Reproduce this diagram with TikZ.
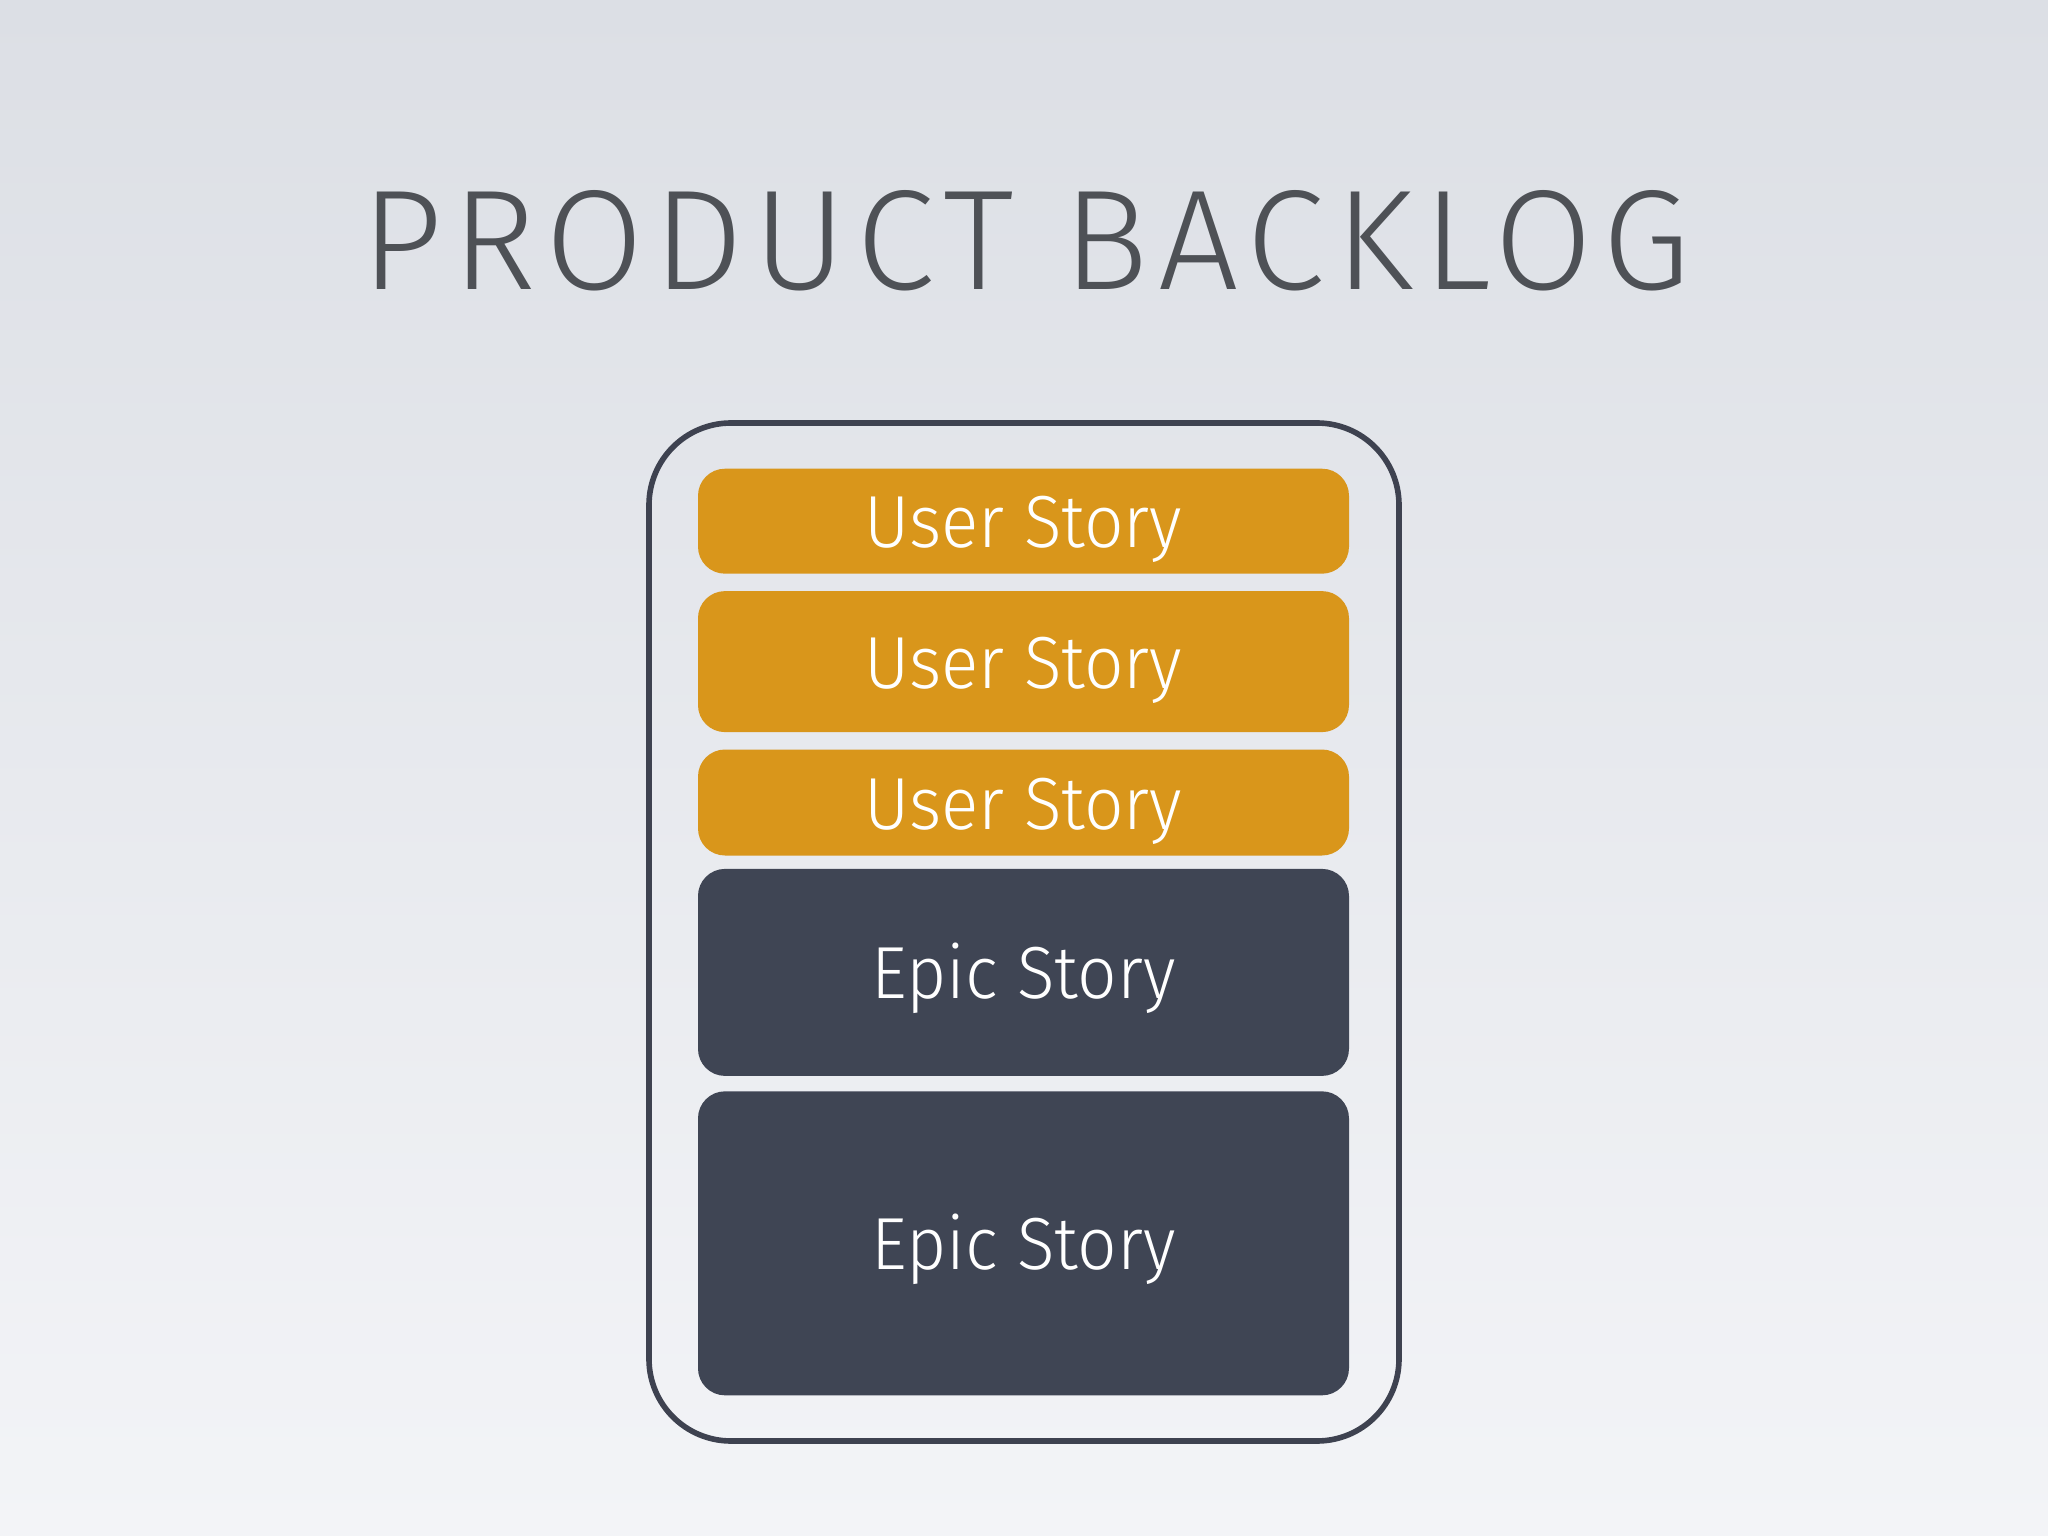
\documentclass[tikz,border=0pt]{standalone}
\usepackage{fontspec}
\setmainfont{Fira Sans}[UprightFont={* Light}]
\newfontfamily\titlefont{Fira Sans}[UprightFont={* Light}, LetterSpace=7]
\newfontfamily\storyfont{Fira Sans}[UprightFont={* Light}, FakeStretch=0.94]
\usepackage{xcolor}
\usetikzlibrary{positioning, backgrounds}
\definecolor{bgtop}{RGB}{220,223,229}
\definecolor{bgbottom}{RGB}{243,244,247}
\definecolor{storyorange}{RGB}{217,150,27}
\definecolor{epicslate}{RGB}{63,69,84}
\definecolor{framegray}{RGB}{62,66,80}
\definecolor{titlegray}{RGB}{78,81,86}

\begin{document}
\begin{tikzpicture}[
    story/.style={rounded corners=0.27cm, minimum width=6.51cm, inner sep=0pt,
        text=white, font=\storyfont\fontsize{21}{21}\selectfont, text height=0.53cm, text depth=0pt},
    userstory/.style={story, fill=storyorange},
    epicstory/.style={story, fill=epicslate},
    node distance=0.16cm
]
    % page and background
    \useasboundingbox (0,0) rectangle (20.48,-15.36);
    \shade[top color=bgtop, bottom color=bgbottom] (0,0) rectangle (20.48,-15.36);

    % title
    \node[anchor=base, text=titlegray, font=\titlefont\fontsize{40.5}{40.5}\selectfont] (title) at (10.26,-2.90) {PRODUCT BACKLOG};

    % backlog frame
    \node[draw=framegray, line width=1.6pt, rounded corners=0.82cm,
        minimum width=7.5cm, minimum height=10.18cm, inner sep=0pt] (backlog) at (10.24,-9.32) {};

    % stacked items
    \node[userstory, minimum height=1.05cm, anchor=north] (us1) at (10.235,-4.68) {User Story};
    \node[userstory, minimum height=1.41cm, below=of us1] (us2) {User Story};
    \node[userstory, minimum height=1.06cm, below=of us2] (us3) {User Story};
    \node[epicstory, minimum height=2.07cm, below=0.12cm of us3] (epic1) {Epic Story};
    \node[epicstory, minimum height=3.04cm, below=0.14cm of epic1] (epic2) {Epic Story};
\end{tikzpicture}
\end{document}
